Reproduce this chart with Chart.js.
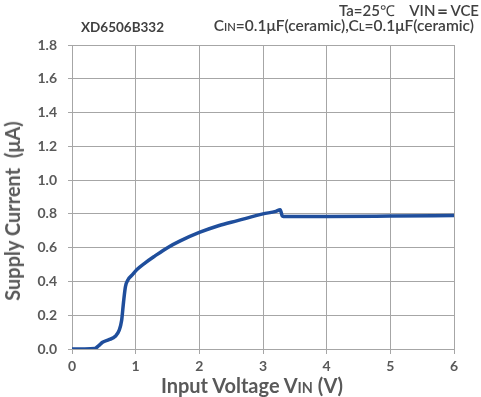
<!DOCTYPE html>
<html><head><meta charset="utf-8">
<script src="https://cdn.jsdelivr.net/npm/chart.js@4/dist/chart.umd.min.js"></script>
<style>
html,body{margin:0;padding:0;background:#fff;}
#wrap{position:relative;width:481px;height:397px;font-family:Lato,"Open Sans",sans-serif;}
canvas{position:absolute;left:0;top:0;}
.t{position:absolute;white-space:nowrap;font-weight:bold;}
.sc{font-size:0.72em;}
</style></head><body>
<div id="wrap">
<canvas id="c" width="481" height="397"></canvas>
<div class="t" id="chip" style="left:81px;top:19px;font-size:13.5px;color:#404040;">XD6506B332</div>
<div class="t" style="right:2px;top:0px;font-size:15px;color:#404040;font-weight:600;">Ta=25<span style="font-weight:400">℃</span>&nbsp;&nbsp;&nbsp;&nbsp;VIN＝VCE</div>
<div class="t" style="right:7px;top:16px;font-size:15.5px;color:#404040;font-weight:600;">C<span class="sc">IN</span>=0.1μF(ceramic),C<span class="sc">L</span>=0.1μF(ceramic)</div>
<div class="t" style="left:0;width:504px;text-align:center;top:373px;font-size:20px;color:#595959;">Input Voltage V<span class="sc">IN</span> (V)</div>
<div class="t" style="left:12px;top:211px;font-size:20px;color:#595959;transform:translate(-50%,-50%) rotate(-90deg);">Supply Current&nbsp; (μA)</div>
</div>
<script>
const voltage = [0, 0.2, 0.36, 0.42, 0.48, 0.58, 0.68, 0.74, 0.78, 0.81, 0.84, 0.88, 0.95, 1.02, 1.15, 1.3, 1.5, 1.7, 2.0, 2.3, 2.6, 3.0, 3.2, 3.27, 3.3, 3.32, 4.0, 5.0, 6.0];
const current = [0, 0, 0.003, 0.02, 0.04, 0.055, 0.075, 0.11, 0.17, 0.28, 0.37, 0.41, 0.44, 0.47, 0.51, 0.55, 0.6, 0.64, 0.69, 0.73, 0.76, 0.80, 0.815, 0.825, 0.79, 0.785, 0.785, 0.787, 0.79];
const xTicks = [0, 1, 2, 3, 4, 5, 6];
const yTicks = [0, 0.2, 0.4, 0.6, 0.8, 1.0, 1.2, 1.4, 1.6, 1.8];

const pts = voltage.map((v, i) => ({x: v, y: current[i]}));
const tickFont = {family: 'Lato, "Open Sans", sans-serif', size: 14, weight: 'bold'};
new Chart(document.getElementById('c'), {
  type: 'line',
  data: {datasets: [{data: pts, borderColor: '#1F4E9C', borderWidth: 3.5, pointRadius: 0, cubicInterpolationMode: 'monotone', fill: false}]},
  options: {
    responsive: false, animation: false,
    layout: {padding: {top: 45, right: 27, left: 0, bottom: 0}},
    plugins: {legend: {display: false}, tooltip: {enabled: false}},
    scales: {
      x: {type: 'linear', min: 0, max: 6,
        afterBuildTicks: s => { s.ticks = xTicks.map(v => ({value: v})); },
        afterFit: s => { s.height = 48; },
        ticks: {color: '#595959', font: tickFont, padding: 4, callback: v => String(v)},
        grid: {color: '#a6a6a6', lineWidth: 1, tickLength: 5, drawTicks: true},
        border: {color: '#a6a6a6'}
      },
      y: {type: 'linear', min: 0, max: 1.8,
        afterBuildTicks: s => { s.ticks = yTicks.map(v => ({value: v})); },
        afterFit: s => { s.width = 72; },
        ticks: {color: '#595959', font: tickFont, padding: 11, callback: v => v.toFixed(1)},
        grid: {color: '#a6a6a6', lineWidth: 1, tickLength: 4},
        border: {color: '#a6a6a6'}
      }
    }
  }
});
</script>
</body></html>
